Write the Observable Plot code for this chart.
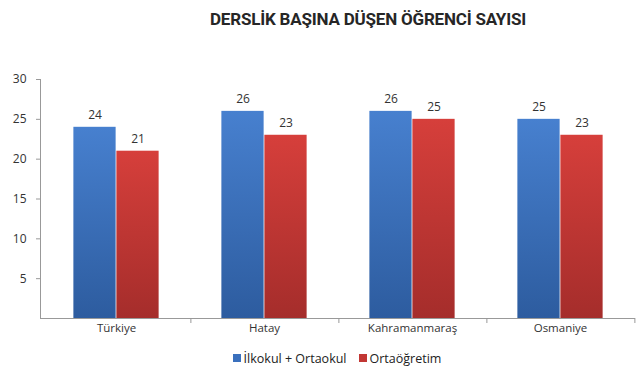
<!DOCTYPE html>
<html><head><meta charset="utf-8">
<script src="https://cdn.jsdelivr.net/npm/d3@7"></script>
<script src="https://cdn.jsdelivr.net/npm/@observablehq/plot@0.6"></script>
<style>
body{margin:0;background:#fff;font-family:"Open Sans",sans-serif;width:640px;overflow:hidden}
#title{height:55px;position:relative}
#title span{position:absolute;left:368px;top:9px;transform:translateX(-50%);font-family:Roboto,sans-serif;font-weight:bold;font-size:17px;letter-spacing:-0.2px;color:#262626;white-space:nowrap}
#chart svg{display:block}
#legend{display:flex;justify-content:center;align-items:center;gap:12px;padding-left:34px;font-size:12.5px;color:#222;height:20px}
#legend .item{display:flex;align-items:center;gap:3px}
#legend .sw{width:8px;height:8px;display:inline-block}
</style></head><body>
<div id="title"><span>DERSLİK BAŞINA DÜŞEN ÖĞRENCİ SAYISI</span></div>
<div id="chart"></div>
<div id="legend"></div>
<script>
const categories = ["Türkiye", "Hatay", "Kahramanmaraş", "Osmaniye"];
const series = ["İlkokul + Ortaokul", "Ortaöğretim"];
const ilkokulOrtaokul = [24, 26, 26, 25];
const ortaogretim = [21, 23, 25, 23];
const yTicks = [5, 10, 15, 20, 25, 30];
const colors = ["#3a70bd", "#c23734"];

const blueData = categories.map((c, i) => ({category: c, series: series[0], value: ilkokulOrtaokul[i]}));
const redData = categories.map((c, i) => ({category: c, series: series[1], value: ortaogretim[i]}));

const W = 640, ML = 40, MR = 5;
const band = (W - ML - MR) / categories.length;
const barW = 43;
const inset = (band - barW) / 2;

const plot = Plot.plot({
  width: W,
  height: 293,
  marginLeft: ML,
  marginRight: MR,
  marginTop: 24,
  marginBottom: 30,
  style: {fontFamily: "'Open Sans', sans-serif", fontSize: "11.5px", color: "#333", background: "#fff"},
  x: {domain: categories, padding: 0, label: null},
  y: {domain: [0, 30], label: null},
  marks: [
    Plot.barY(blueData, {x: "category", y: "value", fill: "url(#gBlue)", insetLeft: inset, insetRight: inset, dx: -barW / 2}),
    Plot.barY(redData, {x: "category", y: "value", fill: "url(#gRed)", insetLeft: inset, insetRight: inset, dx: barW / 2}),
    Plot.text(blueData, {x: "category", y: "value", text: d => String(d.value), dx: -barW / 2, dy: -12, fontSize: 12, fill: "#333"}),
    Plot.text(redData, {x: "category", y: "value", text: d => String(d.value), dx: barW / 2, dy: -12, fontSize: 12, fill: "#333"}),
    Plot.ruleY([0], {stroke: "#999"}),
    Plot.axisX({tickSize: 0, tickPadding: 5, fontSize: 11.5}),
    Plot.axisX({tickSize: 5, tickFormat: () => "", dx: band / 2, stroke: "#999"}),
    Plot.axisY({ticks: yTicks, tickSize: 4, tickPadding: 10, fontSize: 12, stroke: "#999"})
  ]
});

// gradients
const svg = d3.select(plot);
const defs = svg.insert("defs", ":first-child");
function grad(id, top, bottom) {
  const g = defs.append("linearGradient").attr("id", id).attr("x1", 0).attr("y1", 0).attr("x2", 0).attr("y2", 1);
  g.append("stop").attr("offset", "0%").attr("stop-color", top);
  g.append("stop").attr("offset", "100%").attr("stop-color", bottom);
}
grad("gBlue", "#4780cf", "#2d5c9f");
grad("gRed", "#d63f3b", "#a52d2b");

// y axis line
const y = plot.scale("y");
svg.append("line").attr("x1", ML + 0.5).attr("x2", ML + 0.5).attr("y1", y.apply(30)).attr("y2", y.apply(0)).attr("stroke", "#999");

document.getElementById("chart").append(plot);

const legend = document.getElementById("legend");
series.forEach((s, i) => {
  const it = document.createElement("span");
  it.className = "item";
  it.innerHTML = `<span class="sw" style="background:${colors[i]}"></span><span>${s}</span>`;
  legend.append(it);
});
</script>
</body></html>
